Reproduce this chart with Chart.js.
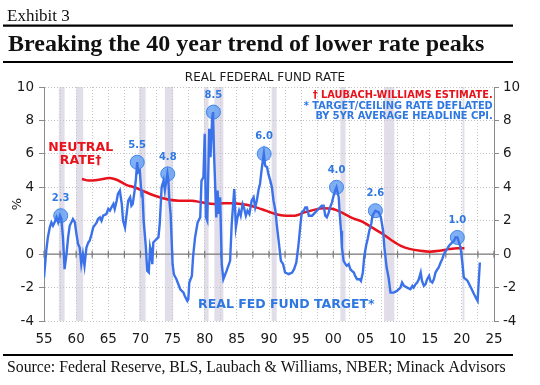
<!DOCTYPE html>
<html>
<head>
<meta charset="utf-8">
<script src="https://cdn.jsdelivr.net/npm/chart.js@4.4.1/dist/chart.umd.min.js"></script>
<style>
  html, body { margin: 0; padding: 0; background: #fff; }
  #wrap { position: relative; width: 540px; height: 385px; }
</style>
</head>
<body>
<div id="wrap"><canvas id="rateChart" width="540" height="385"></canvas></div>
<script>
// Real fed fund target rate (deflated by 5yr avg CPI)
const rateYears = [
  1955.0, 1955.35, 1955.6, 1955.9, 1956.15, 1956.4, 1956.65, 1956.95, 1957.2, 1957.5,
  1957.7, 1957.95, 1958.2, 1958.5, 1958.75, 1959.0, 1959.5, 1959.8, 1960.05, 1960.3,
  1960.55, 1960.8, 1961.05, 1961.3, 1961.6, 1961.9, 1962.1, 1962.4, 1962.65, 1963.2,
  1963.4, 1963.7, 1963.95, 1964.2, 1964.7, 1965.0, 1965.25, 1965.5, 1965.8, 1966.0,
  1966.3, 1966.5, 1966.8, 1967.1, 1967.3, 1967.6, 1967.85, 1968.1, 1968.4, 1968.6,
  1968.8, 1969.1, 1969.3, 1969.5, 1969.65, 1969.9, 1970.2, 1970.3, 1970.5, 1970.85,
  1971.05, 1971.3, 1971.5, 1971.6, 1971.85, 1972.0, 1972.25, 1972.5, 1972.8, 1973.0,
  1973.3, 1973.6, 1973.8, 1974.2, 1974.35, 1974.5, 1974.7, 1975.0, 1975.2, 1975.6,
  1975.9, 1976.2, 1976.7, 1976.9, 1977.3, 1977.45, 1977.6, 1978.0, 1978.2, 1978.5,
  1978.9, 1979.3, 1979.5, 1979.8, 1980.0, 1980.2, 1980.4, 1980.7, 1980.9, 1981.15,
  1981.3, 1981.45, 1981.8, 1982.0, 1982.2, 1982.4, 1982.65, 1982.9, 1983.4, 1983.95,
  1984.2, 1984.6, 1984.85, 1985.1, 1985.35, 1985.6, 1985.9, 1986.1, 1986.4, 1986.65,
  1986.95, 1987.3, 1987.6, 1987.85, 1988.1, 1988.4, 1988.6, 1988.9, 1989.2, 1989.4,
  1989.7, 1989.9, 1990.2, 1990.45, 1990.7, 1991.0, 1991.2, 1991.5, 1991.85, 1992.2,
  1992.5, 1993.05, 1993.6, 1993.9, 1994.25, 1994.6, 1994.9, 1995.1, 1995.4, 1995.65,
  1995.9, 1996.2, 1996.7, 1997.2, 1997.7, 1998.2, 1998.5, 1998.75, 1999.0, 1999.3,
  1999.5, 1999.8, 2000.05, 2000.3, 2000.5, 2000.85, 2001.0, 2001.2, 2001.35, 2001.6,
  2001.9, 2002.1, 2002.4, 2002.65, 2002.9, 2003.2, 2003.4, 2003.7, 2004.1, 2004.3,
  2004.6, 2004.8, 2005.1, 2005.35, 2005.6, 2005.9, 2006.1, 2006.55, 2007.1, 2007.4,
  2007.75, 2007.95, 2008.3, 2008.6, 2008.9, 2009.4, 2009.9, 2010.45, 2010.7, 2011.0,
  2011.5, 2012.0, 2012.3, 2012.5, 2012.8, 2013.05, 2013.3, 2013.6, 2013.8, 2014.1,
  2014.35, 2014.6, 2014.9, 2015.1, 2015.4, 2015.65, 2015.9, 2016.2, 2016.4, 2016.7,
  2016.95, 2017.2, 2017.5, 2017.7, 2018.0, 2018.25, 2018.5, 2018.8, 2019.0, 2019.3,
  2019.55, 2019.8, 2020.1, 2020.3, 2020.6, 2020.9, 2021.4, 2021.9, 2022.3, 2022.45,
  2022.6, 2022.8
];
const rateValues = [
  -1.4, 0.2, 1.0, 1.6, 1.9, 1.7, 1.9, 2.2, 1.9, 2.3,
  2.1, 1.0, -0.9, 0.0, 1.0, 1.7, 2.1, 1.9, 1.2, 0.6,
  0.4, -0.6, 0.0, -0.7, 0.4, 0.7, 0.8, 1.2, 1.6, 1.9,
  2.1, 2.2, 2.0, 2.3, 2.4, 2.7, 2.6, 2.8, 3.0, 2.7,
  3.2, 3.6, 3.8, 3.0, 2.0, 1.6, 2.4, 3.2, 3.4, 2.9,
  3.0, 3.8, 4.5, 5.5, 4.9, 5.0, 3.4, 3.8, 2.0, 0.4,
  -1.0, -1.1, 0.4, 0.2, -0.6, 0.7, 0.8, 0.9, 1.0, 1.8,
  4.0, 4.4, 3.8, 4.8, 4.4, 3.2, 2.4, -0.6, -1.2, -1.5,
  -1.8, -2.1, -2.3, -2.5, -2.8, -2.7, -1.7, -1.3, -0.1, 1.0,
  1.9, 2.2, 4.4, 4.6, 7.2, 2.2, 2.0, 7.5, 5.8, 8.1,
  8.5, 6.0, 2.2, 3.8, 2.4, 3.4, -0.6, -1.5, -1.0, -0.4,
  1.8, 3.9, 1.6, 2.2, 2.6, 2.3, 3.0, 2.8, 2.3, 2.6,
  2.4, 3.2, 3.4, 2.8, 3.2, 3.9, 4.2, 5.2, 6.0, 5.3,
  5.2, 4.8, 4.4, 4.0, 3.2, 2.6, 1.8, 0.8, -0.4, -0.6,
  -1.1, -1.2, -1.1, -0.9, -0.5, 0.6, 1.8, 2.5, 2.6, 2.8,
  2.8, 2.3, 2.3, 2.5, 2.7, 2.9, 2.9, 2.3, 2.2, 2.5,
  2.8, 3.1, 3.5, 3.8, 4.0, 3.4, 2.4, 1.4, 0.4, -0.4,
  -0.6, -0.7, -0.6, -0.9, -1.0, -1.1, -1.3, -1.5, -1.5, -1.6,
  -1.1, -0.2, 0.5, 0.9, 1.4, 1.8, 2.3, 2.6, 2.5, 2.2,
  1.4, 0.4, -0.8, -1.4, -2.3, -2.3, -2.2, -2.0, -1.7, -1.9,
  -2.0, -2.1, -1.9, -2.0, -1.8, -1.7, -1.5, -1.1, -1.6, -1.9,
  -1.8, -1.5, -1.3, -1.6, -1.7, -1.5, -1.1, -0.9, -0.8, -0.5,
  -0.3, 0.0, 0.2, 0.3, 0.5, 0.6, 0.7, 0.8, 1.0, 1.0,
  0.7, 0.4, -0.6, -1.4, -1.5, -1.6, -2.0, -2.4, -2.7, -2.8,
  -1.8, -0.5
];

// Laubach-Williams neutral rate estimate
const neutralYears = [
  1960.9, 1962.0, 1963.5, 1965.2, 1966.3, 1967.8, 1969.0, 1970.0, 1971.5, 1973.0,
  1974.5, 1976.0, 1978.0, 1979.5, 1981.5, 1983.0, 1984.5, 1986.5, 1988.0, 1989.5,
  1991.0, 1992.5, 1994.0, 1995.5, 1997.0, 1998.5, 2000.0, 2001.5, 2003.0, 2004.5,
  2006.0, 2007.5, 2009.0, 2010.5, 2012.0, 2013.5, 2015.0, 2016.5, 2018.0, 2019.3,
  2020.4
];
const neutralValues = [
  4.5, 4.4, 4.45, 4.55, 4.45, 4.15, 4.0, 3.85, 3.6, 3.4,
  3.25, 3.2, 3.2, 3.1, 3.0, 3.05, 3.05, 2.95, 2.8, 2.6,
  2.4, 2.3, 2.3, 2.5, 2.65, 2.75, 2.7, 2.45, 2.15, 1.95,
  1.6, 1.25, 0.85, 0.5, 0.3, 0.2, 0.15, 0.2, 0.3, 0.35,
  0.35
];

// NBER recessions (shaded bars)
const recessionStart = [1957.3, 1960.0, 1969.8, 1973.8, 1979.9, 1981.5, 1990.4, 2001.1, 2007.9, 2020.1];
const recessionEnd   = [1958.2, 1961.1, 1970.8, 1975.1, 1980.6, 1982.9, 1991.2, 2001.9, 2009.5, 2020.4];

// Rate peaks marked with circles
const peakYears  = [1957.6, 1969.5, 1974.25, 1981.35, 1989.25, 2000.5, 2006.55, 2019.3];
const peakValues = [2.3, 5.5, 4.8, 8.5, 6.0, 4.0, 2.6, 1.0];

const xTickYears  = [1955, 1960, 1965, 1970, 1975, 1980, 1985, 1990, 1995, 2000, 2005, 2010, 2015, 2020, 2025];
const xTickLabels = ["55", "60", "65", "70", "75", "80", "85", "90", "95", "00", "05", "10", "15", "20", "25"];

const BLUE_LINE = "#3b72ea";
const BLUE_TEXT = "#2f78e2";
const RED = "#e8121c";
const SERIF = "'Liberation Serif', 'DejaVu Serif', serif";
const SANS = "'DejaVu Sans', Verdana, sans-serif";

Chart.defaults.font.family = SANS;
Chart.defaults.color = "#1a1a1a";

// shaded recession bars, under the grid
const recessionShading = {
  id: "recessionShading",
  beforeDraw(chart) {
    const { ctx, chartArea, scales } = chart;
    ctx.save();
    ctx.fillStyle = "#e1deea";
    recessionStart.forEach((s, i) => {
      const x1 = scales.x.getPixelForValue(s);
      const x2 = scales.x.getPixelForValue(recessionEnd[i]);
      ctx.fillRect(x1, chartArea.top, x2 - x1, chartArea.bottom - chartArea.top);
    });
    ctx.restore();
  }
};

// solid zero line with small tick marks
const zeroLine = {
  id: "zeroLine",
  beforeDatasetsDraw(chart) {
    const { ctx, chartArea, scales } = chart;
    const y = scales.y.getPixelForValue(0);
    ctx.save();
    ctx.strokeStyle = "#7a7a7a";
    ctx.lineWidth = 1.2;
    ctx.beginPath();
    ctx.moveTo(chartArea.left, y);
    ctx.lineTo(chartArea.right, y);
    scales.x.ticks.forEach((t) => {
      const x = scales.x.getPixelForValue(t.value);
      ctx.moveTo(x, y - 3.5);
      ctx.lineTo(x, y + 3.5);
    });
    ctx.stroke();
    ctx.restore();
  }
};

// headline, notes, peak labels and source
const textLayer = {
  id: "textLayer",
  afterDraw(chart) {
    const { ctx, scales } = chart;
    const sx = (v) => scales.x.getPixelForValue(v);
    const sy = (v) => scales.y.getPixelForValue(v);
    ctx.save();

    // header
    ctx.fillStyle = "#111";
    ctx.textAlign = "left";
    ctx.textBaseline = "alphabetic";
    ctx.font = "17px " + SERIF;
    ctx.fillText("Exhibit 3", 7, 21);
    ctx.font = "bold 24px " + SERIF;
    ctx.fillText("Breaking the 40 year trend of lower rate peaks", 8, 51);
    ctx.strokeStyle = "#000";
    ctx.lineWidth = 2.2;
    ctx.beginPath();
    ctx.moveTo(3, 25.7); ctx.lineTo(513, 25.7);
    ctx.moveTo(3, 62); ctx.lineTo(513, 62);
    ctx.moveTo(3, 355); ctx.lineTo(513, 355);
    ctx.stroke();
    ctx.font = "15.8px " + SERIF;
    ctx.fillText("Source: Federal Reserve, BLS, Laubach & Williams, NBER; Minack Advisors", 7, 372);

    // chart title
    ctx.textAlign = "center";
    ctx.textBaseline = "middle";
    ctx.fillStyle = "#1a1a1a";
    ctx.font = "12px " + SANS;
    ctx.fillText("REAL FEDERAL FUND RATE", 265, 77.5);

    // notes, top right
    ctx.textAlign = "right";
    ctx.font = "bold 9.8px " + SANS;
    ctx.fillStyle = RED;
    ctx.fillText("\u2020 LAUBACH-WILLIAMS ESTIMATE.", sx(2024.8), sy(9.5));
    ctx.fillStyle = BLUE_TEXT;
    ctx.fillText("* TARGET/CEILING RATE DEFLATED", sx(2024.8), sy(8.86));
    ctx.fillText("BY 5YR AVERAGE HEADLINE CPI.", sx(2024.8), sy(8.22));

    // series labels
    ctx.textAlign = "center";
    ctx.font = "bold 12.5px " + SANS;
    ctx.fillStyle = RED;
    ctx.fillText("NEUTRAL", sx(1960.7), sy(6.39));
    ctx.fillText("RATE\u2020", sx(1960.7), sy(5.61));
    ctx.fillStyle = BLUE_TEXT;
    ctx.fillText("REAL FED FUND TARGET*", sx(1992.7), sy(-3.0));

    // peak values above circles
    ctx.font = "bold 10px " + SANS;
    peakYears.forEach((yr, i) => {
      ctx.fillText(peakValues[i].toFixed(1), sx(yr), sy(peakValues[i]) - 17);
    });
    ctx.restore();
  }
};

const ctx = document.getElementById("rateChart").getContext("2d");
new Chart(ctx, {
  type: "line",
  data: {
    datasets: [
      {
        label: "Real fed fund target",
        data: rateYears.map((x, i) => ({ x: x, y: rateValues[i] })),
        borderColor: BLUE_LINE,
        borderWidth: 2.4,
        pointRadius: 0,
        tension: 0,
        order: 0
      },
      {
        label: "Neutral rate",
        data: neutralYears.map((x, i) => ({ x: x, y: neutralValues[i] })),
        borderColor: RED,
        borderWidth: 2.5,
        pointRadius: 0,
        cubicInterpolationMode: "monotone",
        order: 1
      },
      {
        label: "Peaks",
        type: "scatter",
        data: peakYears.map((x, i) => ({ x: x, y: peakValues[i] })),
        pointRadius: 7,
        backgroundColor: "rgba(96,156,240,0.8)",
        borderColor: "#3d84ee",
        borderWidth: 1,
        order: 2
      }
    ]
  },
  options: {
    responsive: false,
    animation: false,
    events: [],
    layout: { padding: { top: 87, bottom: 34, left: 0, right: 0 } },
    plugins: {
      legend: { display: false },
      tooltip: { enabled: false }
    },
    scales: {
      x: {
        type: "linear",
        min: 1955,
        max: 2025,
        afterFit: (scale) => { scale.height = 30; },
        grid: { color: "#c4c4c4", lineWidth: 1, drawTicks: false },
        border: { display: false, dash: [1, 2] },
        ticks: {
          stepSize: 2.5,
          autoSkip: false,
          maxRotation: 0,
          padding: 10,
          font: { size: 13.5 },
          callback: (v) => {
            const i = xTickYears.indexOf(v);
            return i >= 0 ? xTickLabels[i] : "";
          }
        }
      },
      y: {
        position: "left",
        min: -4,
        max: 10,
        afterFit: (scale) => { scale.width = 44; },
        grid: {
          color: "#c4c4c4",
          tickColor: "#8a8a8a",
          tickLength: 5,
          tickBorderDash: []
        },
        border: { display: true, color: "#8a8a8a", width: 1, dash: [1, 2] },
        ticks: { stepSize: 2, padding: 5, font: { size: 13.5 } },
        title: { display: true, text: "%", font: { size: 13 }, padding: { top: 10, bottom: 0 } }
      },
      y2: {
        position: "right",
        min: -4,
        max: 10,
        afterFit: (scale) => { scale.width = 46; },
        grid: {
          drawOnChartArea: false,
          tickColor: "#8a8a8a",
          tickLength: 5,
          tickBorderDash: []
        },
        border: { display: true, color: "#8a8a8a", width: 1 },
        ticks: { stepSize: 2, padding: 4, font: { size: 13.5 } }
      }
    }
  },
  plugins: [recessionShading, zeroLine, textLayer]
});
</script>
</body>
</html>
